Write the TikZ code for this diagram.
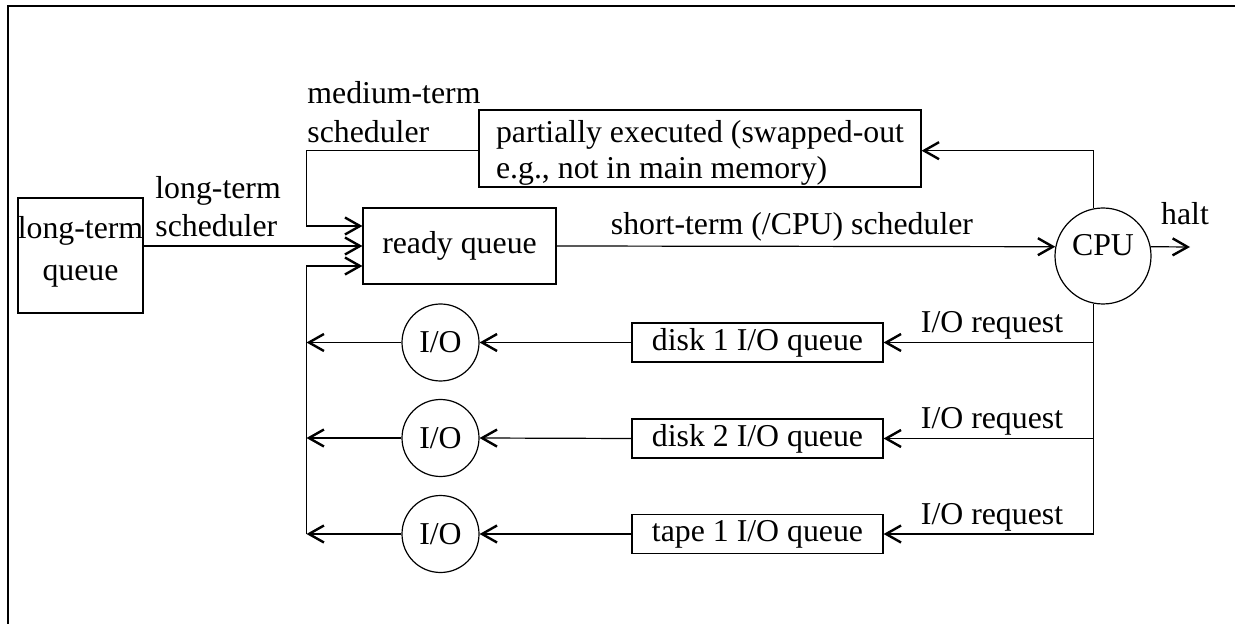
\documentclass[tikz,border=0pt]{standalone}
\usepackage{fontspec}
\setmainfont{Liberation Serif}
\usetikzlibrary{arrows.meta}
\begin{document}
\begin{tikzpicture}[x=0.5pt,y=-0.5pt,
  every node/.style={font=\fontsize{15.9}{19.5}\selectfont, inner sep=0pt},
  box/.style={draw, line width=0.6pt},
  ioc/.style={draw, circle, line width=0.6pt, minimum size=38.5pt},
  conn/.style={line width=0.6pt},
  arr/.style={conn, -{Straight Barb[length=7.5pt,width=8.5pt,line width=1.2pt]}},
  frame/.style={line width=1pt}
]
\useasboundingbox (0,0) rectangle (1235,624);
% partial frame
\coordinate (fbl) at (7.7,624);
\coordinate (ftl) at (7.7,6);
\coordinate (ftr) at (1235,6);
\draw[frame] (fbl) -- (ftl) -- (ftr);

% nodes
\node[box, minimum width=62.5pt, minimum height=57.5pt] (ltq) at (80.5,255.5) {};
\node[align=center, font=\fontsize{15.9}{21}\selectfont] (ltqt) at (80.5,251.6) {long-term\\queue};
\node[box, minimum width=96.5pt, minimum height=38pt] (ready) at (459.5,246) {ready queue};
\node[box, minimum width=221pt, minimum height=38.5pt] (partial) at (700,148.5) {};
\node[align=left, font=\fontsize{15.9}{18}\selectfont] (partialt) at (700,152.6) {partially executed (swapped-out\\e.g., not in main memory)};
\node[draw, circle, line width=0.6pt, minimum size=48pt] (cpu) at (1103,256) {};
\node (cput) at (1103,245) {CPU};

\node[box, minimum width=125.5pt, minimum height=19.5pt] (q1) at (757.5,342.5) {disk 1 I/O queue};
\node[box, minimum width=125.5pt, minimum height=19.5pt] (q2) at (757.5,438.5) {disk 2 I/O queue};
\node[box, minimum width=125.5pt, minimum height=19.5pt] (q3) at (757.5,534) {tape 1 I/O queue};
\node[ioc] (io1) at (440.5,342.5) {I/O};
\node[ioc] (io2) at (440.5,438) {I/O};
\node[ioc] (io3) at (440.5,534) {I/O};

% labels
\node[anchor=north west, align=left] (mtl) at (307,81.3) {medium-term\\scheduler};
\node[anchor=north west, align=left, font=\fontsize{15.9}{19}\selectfont] (ltl) at (155,176.3) {long-term\\scheduler};
\node[anchor=base] (stl) at (792,235) {short-term (/CPU) scheduler};
\node[anchor=base] (haltl) at (1185,225) {halt};
\node[anchor=base] (rq1) at (992,333) {I/O request};
\node[anchor=base] (rq2) at (992,428.5) {I/O request};
\node[anchor=base] (rq3) at (992,524.5) {I/O request};

% helper coordinates
\coordinate (lbus) at (306.5,0);
\coordinate (rbus) at (1093.5,0);
\coordinate (rin1) at ([yshift=10pt]ready.west);
\coordinate (rin3) at ([yshift=-10pt]ready.west);
\coordinate (pw) at ([yshift=-1.1pt]partial.west);
\coordinate (pe) at ([yshift=-1.1pt]partial.east);
\coordinate (haltend) at (1190,247);

% connectors
\draw[arr] (ltq.east |- ready.west) -- (ready.west);
\draw[arr] (pw) -| (lbus |- rin1) -- (rin1);
\draw[arr] (lbus |- io3) |- (rin3);
\draw[arr] (ready.east) -- (cpu.169);
\draw[arr] (cpu.11) -- (haltend);
\draw[arr] (cpu.101) |- (pe);
\draw[arr] (cpu.259) |- (q3.east);
\draw[arr] (rbus |- q1) -- (q1.east);
\draw[arr] (rbus |- q2) -- (q2.east);
\draw[arr] (q1.west) -- (io1.east);
\draw[arr] (q2.west) -- (io2.east);
\draw[arr] (q3.west) -- (io3.east);
\draw[arr] (io1.west) -- (lbus |- io1);
\draw[arr] (io2.west) -- (lbus |- io2);
\draw[arr] (io3.west) -- (lbus |- io3);
\end{tikzpicture}
\end{document}
